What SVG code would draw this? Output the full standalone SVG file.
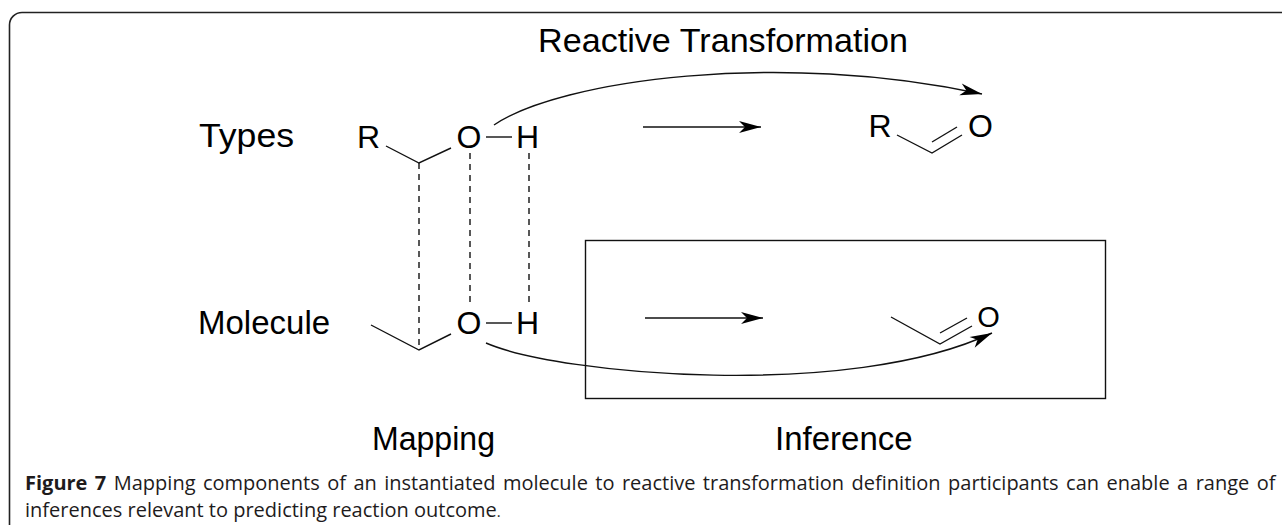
<svg xmlns="http://www.w3.org/2000/svg" width="1282" height="525" viewBox="0 0 1282 525">
<style>
.lbl{font-family:"Liberation Sans",Arial,sans-serif;font-size:33px;fill:#000}
.atom{font-family:"Liberation Sans",Arial,sans-serif;font-size:32px;fill:#000;text-anchor:middle}
.bond{stroke:#111;stroke-width:1.4;fill:none}
.map{stroke:#111;stroke-width:1.4;fill:none;stroke-dasharray:6 5}
.curve{stroke:#111;stroke-width:1.4;fill:none}
.cap{font-family:"Open Sans","Noto Sans",sans-serif;font-size:20px;fill:#1e1b1c}
</style>
<defs>
<marker id="ah" markerUnits="userSpaceOnUse" markerWidth="30" markerHeight="20" viewBox="-24 -10 30 20" refX="0" refY="0" orient="auto">
<path d="M0,0 L-22,-6 L-16,0 L-22,6 Z" fill="#000"/>
</marker>
</defs>
<rect width="1282" height="525" fill="#fff"/>
<path d="M9.5,525 V25 A12.5,12.5 0 0 1 22,12.5 H1282" fill="none" stroke="#222" stroke-width="1.6"/>

<g id="title"><text class="lbl" x="538" y="52" textLength="370" lengthAdjust="spacingAndGlyphs">Reactive Transformation</text></g>
<g id="types-label"><text class="lbl" x="199" y="147" textLength="95" lengthAdjust="spacingAndGlyphs">Types</text></g>
<g id="molecule-label"><text class="lbl" x="198" y="334">Molecule</text></g>
<g id="mapping-label"><text class="lbl" x="372" y="450" textLength="123" lengthAdjust="spacingAndGlyphs">Mapping</text></g>
<g id="inference-label"><text class="lbl" x="775" y="450">Inference</text></g>

<g id="types-reactant">
<text class="atom" x="368.5" y="148">R</text>
<text class="atom" x="469" y="148">O</text>
<text class="atom" x="527.5" y="148">H</text>
<path class="bond" d="M386,146 L419,163 L451,148"/>
<path class="bond" d="M486,137 H512"/>
</g>

<g id="types-product">
<text class="atom" x="880" y="137">R</text>
<text class="atom" x="980.5" y="137">O</text>
<path class="bond" d="M897,135 L932,153 L962,135"/>
<path class="bond" d="M932,142 L957,127"/>
</g>

<g id="molecule-reactant">
<text class="atom" x="469" y="334">O</text>
<text class="atom" x="527.5" y="334">H</text>
<path class="bond" d="M371,325 L419,350 L451,334"/>
<path class="bond" d="M486,323 H512"/>
</g>

<g id="inference-box">
<rect x="585.5" y="240.5" width="520" height="158" fill="none" stroke="#111" stroke-width="1.4"/>
</g>

<g id="molecule-product">
<text class="atom" x="988.5" y="327" style="font-size:29px">O</text>
<path class="bond" d="M891,317 L940,344 L972,326"/>
<path class="bond" d="M940,333 L967,318"/>
</g>

<g id="connectors">
<path class="map" d="M419,163 V350"/>
<path class="map" d="M470,153 V303"/>
<path class="map" d="M529,153 V303"/>
<path class="curve" d="M494,125 C560,80 780,50 982,94" marker-end="url(#ah)"/>
<path class="curve" d="M486,343 C560,375 850,400 992,333" marker-end="url(#ah)"/>
<path class="curve" d="M643,127 H761" marker-end="url(#ah)"/>
<path class="curve" d="M645,318 H763" marker-end="url(#ah)"/>
</g>

<g id="caption">
<text class="cap" x="25" y="490" word-spacing="2.25"><tspan font-weight="bold">Figure 7</tspan> Mapping components of an instantiated molecule to reactive transformation definition participants can enable a range of</text>
<text class="cap" x="25" y="517">inferences relevant to predicting reaction outcome<tspan font-size="15">.</tspan></text>
</g>
</svg>
